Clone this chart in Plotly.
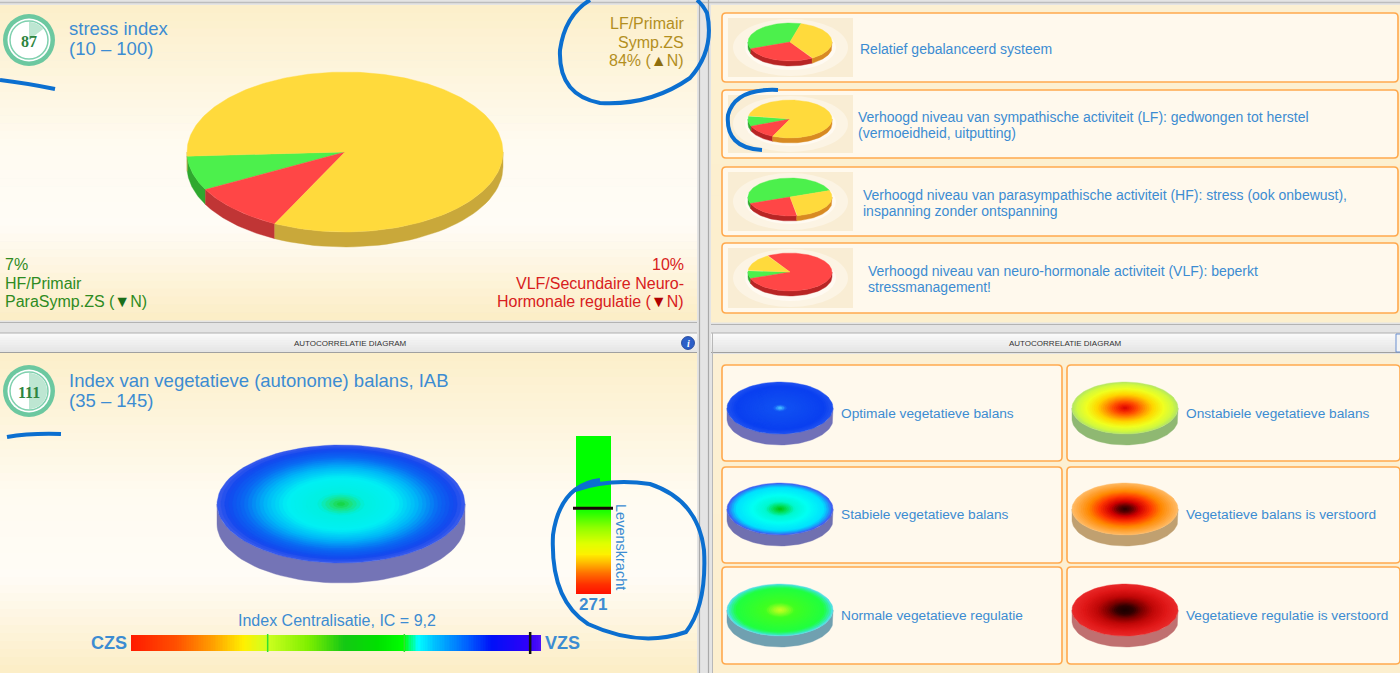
import numpy as np
import plotly.graph_objects as go

# ---------------- data ----------------
stress_index = 87
stress_title = "stress index"
stress_range = "(10 – 100)"
main_labels = ["HF", "VLF", "LF"]
main_values = [7, 10, 84]          # % HF (green), VLF (red), LF (yellow)

ref_texts = [
    ["Relatief gebalanceerd systeem"],
    ["Verhoogd niveau van sympathische activiteit (LF): gedwongen tot herstel", "(vermoeidheid, uitputting)"],
    ["Verhoogd niveau van parasympathische activiteit (HF): stress (ook onbewust),", "inspanning zonder ontspanning"],
    ["Verhoogd niveau van neuro-hormonale activiteit (VLF): beperkt", "stressmanagement!"],
]
ref_values = [[35, 28, 37], [9, 12, 79], [50, 22, 28], [7, 78, 15]]   # HF, VLF, LF

iab_value = 111
iab_title = "Index van vegetatieve (autonome) balans, IAB"
iab_range = "(35 – 145)"
ic_value = 9.2
ic_scale = [0, 3.15, 6.3, 9.45]       # bar min, zone limits, bar max
lev_value = 271
lev_scale = [0, 500]
header_text = "AUTOCORRELATIE DIAGRAM"
disk_labels = ["Optimale vegetatieve balans", "Onstabiele vegetatieve balans",
               "Stabiele vegetatieve balans", "Vegetatieve balans is verstoord",
               "Normale vegetatieve regulatie", "Vegetatieve regulatie is verstoord"]

# ---------------- style ----------------
FONT = "Liberation Sans, Arial, sans-serif"
BLUE = "#3C8CD2"
GOLD = "#B38F1F"
GREEN_T = "#2E8B22"
RED_T = "#D82020"
PIE_TOP = ["#4CF04C", "#FF4646", "#FFDA3C"]
PIE_SIDE = ["#2FA82F", "#C03535", "#C9A83A"]
SMALL_SIDE = ["#2FA82F", "#B82525", "#D88A22"]
PEN = "#0B6FD0"

fig = go.Figure()
shapes, annotations = [], []


def hex2rgb(h):
    h = h.lstrip('#')
    return tuple(int(h[i:i + 2], 16) for i in (0, 2, 4))


def interp(stops, t):
    t = min(max(t, stops[0][0]), stops[-1][0])
    for (p0, c0), (p1, c1) in zip(stops[:-1], stops[1:]):
        if p0 <= t <= p1:
            f = 0 if p1 == p0 else (t - p0) / (p1 - p0)
            a, b = hex2rgb(c0), hex2rgb(c1)
            return 'rgb(%d,%d,%d)' % tuple(round(a[i] + (b[i] - a[i]) * f) for i in range(3))
    return stops[-1][1]


def rect(x0, y0, x1, y1, fill, line=None, lw=0, layer='below'):
    shapes.append(dict(type='rect', xref='x', yref='y', x0=x0, y0=y0, x1=x1, y1=y1,
                       fillcolor=fill, line=dict(color=line or fill, width=lw), layer=layer))


def hline(x0, x1, y, color, w=1, layer='below'):
    shapes.append(dict(type='line', xref='x', yref='y', x0=x0, x1=x1, y0=y, y1=y,
                       line=dict(color=color, width=w), layer=layer))


def vline(x, y0, y1, color, w=1, layer='below'):
    shapes.append(dict(type='line', xref='x', yref='y', x0=x, x1=x, y0=y0, y1=y1,
                       line=dict(color=color, width=w), layer=layer))


def vgrad(x0, x1, y0, y1, stops, n=40):
    h = (y1 - y0) / n
    for i in range(n):
        rect(x0, y0 + i * h, x1, y0 + (i + 1) * h + 0.6, interp(stops, (i + 0.5) / n))


def rrect(x0, y0, x1, y1, r, fill, line, lw=1.6):
    p = (f"M {x0+r},{y0} L {x1-r},{y0} Q {x1},{y0} {x1},{y0+r} L {x1},{y1-r} Q {x1},{y1} {x1-r},{y1} "
         f"L {x0+r},{y1} Q {x0},{y1} {x0},{y1-r} L {x0},{y0+r} Q {x0},{y0} {x0+r},{y0} Z")
    shapes.append(dict(type='path', xref='x', yref='y', path=p, fillcolor=fill,
                       line=dict(color=line, width=lw), layer='below'))


def pen(path, w=4):
    shapes.append(dict(type='path', xref='x', yref='y', path=path,
                       line=dict(color=PEN, width=w), layer='above'))


def ann(x, y, text, size, color, xanchor='left', bold=False, angle=0, family=FONT):
    if bold:
        text = "<b>" + text + "</b>"
    annotations.append(dict(x=x, y=y, xref='x', yref='y', text=text, showarrow=False,
                            xanchor=xanchor, yanchor='middle', textangle=angle,
                            font=dict(size=size, color=color, family=family)))


def poly(xs, ys, color):
    fig.add_trace(go.Scatter(x=list(xs) + [xs[0]], y=list(ys) + [ys[0]], mode='lines',
                             fill='toself', fillcolor=color, line=dict(width=0.4, color=color),
                             hoverinfo='skip', showlegend=False))


def add_pie(cx, cy, rx, ry, depth, values, start, tops, sides):
    tot = float(sum(values))
    bounds = []
    a = start
    for v in values:
        b = a + 360.0 * v / tot
        bounds.append((a, b))
        a = b
    for (a0, a1), sc in zip(bounds, sides):
        for k in (-1, 0, 1):
            lo, hi = max(a0, 180 + 360 * k), min(a1, 360 + 360 * k)
            if hi > lo:
                th = np.radians(np.linspace(lo, hi, 40))
                xs = cx + rx * np.cos(th)
                ys = cy - ry * np.sin(th)
                poly(list(xs) + list(xs[::-1]), list(ys) + list(ys[::-1] + depth), sc)
    for (a0, a1), tc in zip(bounds, tops):
        th = np.radians(np.linspace(a0, a1, max(8, int(a1 - a0))))
        xs = [cx] + list(cx + rx * np.cos(th))
        ys = [cy] + list(cy - ry * np.sin(th))
        poly(xs, ys, tc)


def add_disk(cx, cy, rx, ry, depth, side, stops, n=32):
    th = np.linspace(np.pi, 2 * np.pi, 60)
    xs = cx + rx * np.cos(th)
    ys = cy - ry * np.sin(th)
    poly(list(xs) + list(xs[::-1]), list(ys) + list(ys[::-1] + depth), side)
    full = np.linspace(0, 2 * np.pi, 90)
    for k in range(n):
        r = 1 - k / n
        poly(cx + rx * r * np.cos(full), cy - ry * r * np.sin(full), interp(stops, r))


def gauge(cx, cy, value, w0, w1):
    shapes.append(dict(type='circle', xref='x', yref='y', x0=cx - 26, x1=cx + 26, y0=cy - 26, y1=cy + 26,
                       fillcolor='#6CC8A0', line=dict(width=0), layer='below'))
    shapes.append(dict(type='circle', xref='x', yref='y', x0=cx - 21.5, x1=cx + 21.5, y0=cy - 21.5, y1=cy + 21.5,
                       fillcolor='#FFFFFF', line=dict(width=0), layer='below'))
    shapes.append(dict(type='circle', xref='x', yref='y', x0=cx - 19, x1=cx + 19, y0=cy - 19, y1=cy + 19,
                       fillcolor='#FFFFFF', line=dict(width=1.5, color='#7FD0AE'), layer='below'))
    th = np.radians(np.linspace(w0, w1, 30))
    p = f"M {cx},{cy} " + " ".join(f"L {cx+18*np.cos(t):.2f},{cy-18*np.sin(t):.2f}" for t in th) + " Z"
    shapes.append(dict(type='path', xref='x', yref='y', path=p, fillcolor='#BDE6D2',
                       line=dict(width=0), layer='below'))
    ann(cx, cy + 1, str(value), 16, '#2E8540', 'center', True, family="Liberation Serif, serif")


# ---------------- backgrounds ----------------
cream = [(0, '#FCEFCA'), (0.45, '#FFFBF1'), (0.7, '#FFFCF6'), (1, '#FCEDC5')]
hline(0, 1400, 2.5, '#BDBDBD', 1.5)
vgrad(0, 697, 5, 320, cream)
vgrad(711, 1400, 5, 322, [(0, '#FCF0D2'), (1, '#FCEFCD')], 10)
vline(699.5, 0, 673, '#A9A9A9', 1.2)
vline(708.5, 0, 673, '#A9A9A9', 1.2)
hline(0, 697, 322.5, '#B3B3B3', 1.2)
hline(711, 1400, 324.5, '#B3B3B3', 1.2)
for x0, x1 in ((0, 697), (711, 1400)):
    vgrad(x0, x1, 333, 352, [(0, '#FBFBFB'), (1, '#E4E4E4')], 8)
    hline(x0, x1, 333, '#B0B0B0', 1)
    hline(x0, x1, 352.5, '#A0A0A0', 1)
vgrad(0, 697, 353, 673, cream)
vgrad(712, 1400, 354, 673, [(0, '#FCF0D4'), (1, '#FCEFCF')], 10)
vline(712.5, 333, 673, '#B8B8B8', 1)

# ---------------- top-left: stress index pie ----------------
gauge(29, 40, stress_index, 90, 38)
ann(67, 28, stress_title, 18.5, BLUE)
ann(67, 48, stress_range, 18.5, BLUE)
add_pie(345, 152, 158, 80, 15, main_values, 183, PIE_TOP, PIE_SIDE)

hf, vlf, lf = main_values
ann(686, 23, "LF/Primair", 16, GOLD, 'right')
ann(686, 42, "Symp.ZS", 16, GOLD, 'right')
ann(686, 60, f"{lf}% (<span style='color:#8E6E0E'>▲</span>N)", 16, GOLD, 'right')
ann(3, 264, f"{hf}%", 16, GREEN_T)
ann(3, 283, "HF/Primair", 16, GREEN_T)
ann(3, 301, "ParaSymp.ZS (<span style='color:#1A6E1A'>▼</span>N)", 16, GREEN_T)
ann(686, 264, f"{vlf}%", 16, RED_T, 'right')
ann(686, 283, "VLF/Secundaire Neuro-", 16, RED_T, 'right')
ann(686, 301, "Hormonale regulatie (<span style='color:#B00000'>▼</span>N)", 16, RED_T, 'right')

# ---------------- top-right: reference pies ----------------
box_y = [(13, 82), (90, 158), (167, 236), (243, 313)]
pie_cy = [44, 121, 199, 274]
starts = [75, 170, 20, 175]
text_x = [858, 856, 861, 866]
for i, ((y0, y1), vals) in enumerate(zip(box_y, ref_values)):
    rrect(722, y0, 1398, y1, 4, '#FFF9ED', '#FFA94D')
    rect(728, y0 + 5, 853, y1 - 5, '#F9EDD4')
    shapes.append(dict(type='circle', xref='x', yref='y', x0=733, x1=848, y0=y0 + 6, y1=y1 - 6,
                       fillcolor='#FCF4E4', line=dict(width=0), layer='below'))
    shapes.append(dict(type='circle', xref='x', yref='y', x0=745, x1=836, y0=y0 + 12, y1=y1 - 12,
                       fillcolor='#FFFAF2', line=dict(width=0), layer='below'))
    add_pie(790, pie_cy[i] - 2, 42, 19, 5, vals, starts[i], PIE_TOP, SMALL_SIDE)
    lines = ref_texts[i]
    mid = (y0 + y1) / 2 + 1
    if len(lines) == 1:
        ann(text_x[i], mid, lines[0], 14, BLUE)
    else:
        ann(text_x[i], mid - 8, lines[0], 14, BLUE)
        ann(text_x[i], mid + 8, lines[1], 14, BLUE)

# ---------------- headers ----------------
ann(350, 343, header_text, 8, '#333333', 'center')
ann(1065, 343, header_text, 8, '#333333', 'center')
shapes.append(dict(type='circle', xref='x', yref='y', x0=681.5, x1=694.5, y0=336.5, y1=349.5,
                   fillcolor='#2C5FC8', line=dict(width=0.8, color='#1B3E90'), layer='above'))
ann(688, 343, "<i>i</i>", 10, '#FFFFFF', 'center', True, family="Liberation Serif, serif")
rect(1396, 334, 1402, 352, '#F4F4F4', '#6A8FD0', 1, 'above')

# ---------------- bottom-left: IAB ----------------
gauge(29, 391, iab_value, 90, -90)
ann(67, 380, iab_title, 18.5, BLUE)
ann(67, 400, iab_range, 18.5, BLUE)
add_disk(341, 504, 124, 59, 20, '#7474B6',
         [(0, '#10D030'), (0.08, '#20E070'), (0.2, '#00F0E0'), (0.45, '#00F0F4'),
          (0.62, '#00B8F8'), (0.8, '#0A68F2'), (0.93, '#1248EE'), (1, '#3458EC')])

# Levenskracht bar
lev_y0, lev_y1 = 436, 594
ny = 160
ys = lev_y0 + (np.arange(ny) + 0.5) * (lev_y1 - lev_y0) / ny
zl = [[1 - (y - lev_y0) / (lev_y1 - lev_y0)] * 2 for y in ys]
fig.add_trace(go.Heatmap(z=zl, x=[584.75, 602.25], y=ys, showscale=False, hoverinfo='skip',
                         zmin=0, zmax=1,
                         colorscale=[[0, '#FF1000'], [0.06, '#FF3000'], [0.13, '#FF7000'],
                                     [0.2, '#FFC000'], [0.25, '#FFF000'], [0.32, '#E0FF00'],
                                     [0.42, '#90FF00'], [0.52, '#20FF00'], [0.58, '#00FF00'],
                                     [1, '#00FF00']]))
lev_y = lev_y1 - (lev_value - lev_scale[0]) / (lev_scale[1] - lev_scale[0]) * (lev_y1 - lev_y0)
hline(573, 613, lev_y, '#1A0808', 3, 'above')
ann(621, 547, "Levenskracht", 14.5, BLUE, 'center', angle=90)
ann(593, 604, str(lev_value), 17, BLUE, 'center', True)

# Index Centralisatie bar
ic_x0, ic_x1 = 131, 541
nx = 240
xs = ic_x0 + (np.arange(nx) + 0.5) * (ic_x1 - ic_x0) / nx
zi = [[(x - ic_x0) / (ic_x1 - ic_x0) for x in xs]] * 2
fig.add_trace(go.Heatmap(z=zi, x=xs, y=[639, 647], showscale=False, hoverinfo='skip',
                         zmin=0, zmax=1,
                         colorscale=[[0, '#FF1A00'], [0.11, '#FF5000'], [0.2, '#FFA000'],
                                     [0.275, '#FFF000'], [0.33, '#D0FF20'], [0.43, '#80F000'],
                                     [0.52, '#14C814'], [0.6, '#00E000'], [0.665, '#00FF00'],
                                     [0.7, '#00FFFF'], [0.74, '#00C0FF'], [0.82, '#0060FF'],
                                     [0.88, '#0010F8'], [0.97, '#3000F8'], [1, '#5010F8']]))


def ic_x(v):
    return ic_x0 + (v - ic_scale[0]) / (ic_scale[-1] - ic_scale[0]) * (ic_x1 - ic_x0)


for z in ic_scale[1:-1]:
    vline(ic_x(z), 634, 652, '#30E030', 1.5, 'above')
vline(ic_x(ic_value), 632, 654, '#111111', 2.5, 'above')
ann(337, 620, "Index Centralisatie, IC = " + f"{ic_value}".replace('.', ','), 16, BLUE, 'center')
ann(129, 643, "CZS", 18, BLUE, 'right', True)
ann(543, 643, "VZS", 18, BLUE, 'left', True)

# ---------------- bottom-right: reference disks ----------------
disk_styles = [
    ('#7070B8', [(0, '#60D8FF'), (0.07, '#30A0FF'), (0.14, '#1050F2'), (0.85, '#0A40F0'), (1, '#1E50F0')]),
    ('#8FB872', [(0, '#D00000'), (0.12, '#F02000'), (0.25, '#FF5000'), (0.4, '#FF9800'),
                 (0.55, '#FFD800'), (0.75, '#F0FF20'), (0.92, '#D0F840'), (1, '#B8E860')]),
    ('#7070B0', [(0, '#00C000'), (0.15, '#00E060'), (0.3, '#00F8D0'), (0.55, '#00FFF4'),
                 (0.85, '#00E0FF'), (0.95, '#2090F8'), (1, '#4060F0')]),
    ('#C0A070', [(0, '#200000'), (0.15, '#600000'), (0.3, '#D00000'), (0.5, '#FF3800'),
                 (0.7, '#FF8800'), (0.9, '#FFA840'), (1, '#FFB860')]),
    ('#70A0B0', [(0, '#D0FF20'), (0.12, '#A0FF20'), (0.3, '#40FF20'), (0.85, '#20FF40'),
                 (0.95, '#30F0A0'), (1, '#50E0E0')]),
    ('#C07070', [(0, '#180000'), (0.18, '#300000'), (0.35, '#800000'), (0.55, '#C00808'),
                 (0.8, '#E01818'), (1, '#E82828')]),
]
row_y = [(365, 461), (467, 563), (567, 664)]
disk_cy = [408, 509, 610]
col_x = [(722, 1062, 780, 839), (1067, 1400, 1125, 1184)]
for i, label in enumerate(disk_labels):
    r, c = divmod(i, 2)
    bx0, bx1, dcx, tx = col_x[c]
    by0, by1 = row_y[r]
    rrect(bx0, by0, bx1, by1, 4, '#FFF9ED', '#FFA94D')
    side, stops = disk_styles[i]
    add_disk(dcx, disk_cy[r], 53, 26, 11, side, stops, 24)
    ann(tx, disk_cy[r] + 5, label, 13.7, BLUE)

# ---------------- hand-drawn pen marks ----------------
pen("M 0,80 Q 25,83 55,89")
pen("M 7,437 Q 30,433 61,434")
pen("M 590,0 Q 565,15 560,50 Q 558,95 600,103 Q 650,106 690,78 Q 715,50 707,13 Q 703,5 697,0")
pen("M 778,90 Q 735,88 728,115 Q 725,148 762,150")
pen("M 600,480 Q 560,485 553,535 Q 550,600 588,624 Q 640,648 686,632 Q 707,605 704,550 "
    "Q 698,500 650,484 Q 610,478 575,490")

fig.update_layout(
    width=1400, height=673, autosize=False,
    margin=dict(l=0, r=0, t=0, b=0),
    paper_bgcolor='#E4E4E4', plot_bgcolor='#E4E4E4',
    xaxis=dict(range=[0, 1400], visible=False, fixedrange=True),
    yaxis=dict(range=[673, 0], visible=False, fixedrange=True),
    showlegend=False, shapes=shapes, annotations=annotations,
)
fig.write_html("out.html", config=dict(displayModeBar=False),
               post_script="document.body.style.margin='0px';document.body.style.overflow='hidden';")
